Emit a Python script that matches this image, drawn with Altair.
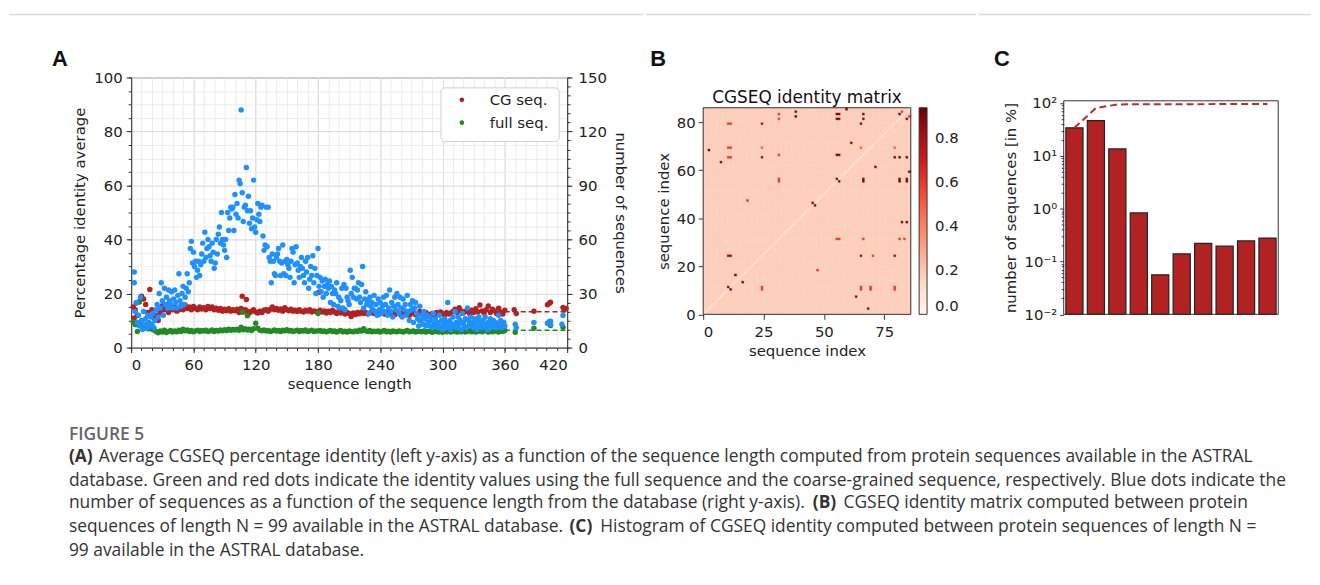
import altair as alt
import pandas as pd
import numpy as np

FONT = "DejaVu Sans"
RED = "#b22222"
GREEN = "#228b22"
BLUE = "#1e90ff"

# ---------------- Panel A data ----------------
red_len = list(range(2, 361, 2))
red_pid = [15, 14, 12, 17, 19, 18, 16, 13, 21.5, 14, 11, 12, 10, 13, 15.5, 14, 16, 13, 15, 14,
           15, 13.5, 14, 15.5, 14, 15.8, 14.5, 15, 14, 15.2, 14.5, 14, 15, 14.3, 14.8, 14, 15.2, 14.5, 15, 14,
           14.6, 13.8, 14.5, 13.5, 14.2, 13.6, 14.4, 13.5, 14, 13.6, 14.2, 13, 14.5, 13.2, 14, 13.5, 12.8, 13.5, 14, 13.2,
           12.8, 13.5, 13, 13.8, 14, 13.5, 14.2, 15, 14, 14.5, 13.8, 14.3, 13.5, 14.8, 14, 13.6, 14.2, 13.5, 13.8, 13.4,
           14, 13.5, 13.2, 13.8, 13.5, 14, 13.2, 13.6, 13.4, 13, 13.8, 13.2, 13.6, 12.8, 13.5, 13, 13.8, 13.2, 12.6, 13.4,
           12.8, 13.2, 12.4, 13, 12.6, 11.5, 12.8, 12.2, 13, 12.5, 13.2, 12.6, 13, 12.4, 12.8, 13.4, 12.6, 13, 12.2, 12.8,
           13.2, 12.4, 12.8, 13.5, 12.6, 13, 12.2, 13.2, 12.6, 12, 13, 12.4, 12.8, 12, 12.6, 13, 12.2, 12.6, 13.4, 12.8,
           12.2, 13, 12.4, 11.8, 12.6, 12, 13, 12.4, 13.2, 12.6, 12, 13, 12.4, 12.8, 13.4, 14.2, 13, 14.8, 13.6, 12.8,
           13.4, 14, 12.6, 13.8, 13, 14.4, 13.2, 15.8, 13.6, 12.8, 14, 15.4, 13, 14.2, 13.6, 12.6, 14.6, 13.2, 12.4, 13.8]
red_extra_len = [3, 5, 107, 111, 181, 369, 371, 388, 401, 403, 404, 416, 417, 419]
red_extra_pid = [11, 16.5, 19, 17.8, 20.5, 14, 12.6, 13.5, 15.9, 16.4, 16.8, 14.9, 13.9, 14.5]

green_len = list(range(2, 361, 2))
green_pid = [9.5, 8.5, 6, 9, 8, 7.5, 8, 7, 7.5, 6.8, 6.5, 6, 5.5, 6.2, 5.8, 6.4, 5.6, 6, 6.3, 5.8,
             6.2, 5.9, 6.4, 6, 6.8, 6.2, 6.5, 6, 6.3, 5.9, 6.2, 6.4, 6, 6.3, 6.1, 6.4, 6, 6.2, 6.5, 6,
             6.3, 6.1, 6.5, 6.2, 6.6, 6.3, 6.8, 6.4, 6.7, 6.5, 6.8, 6.4, 7.5, 6.6, 7, 6.5, 6.8, 6.3, 7, 9,
             7.2, 6.4, 6.2, 6.5, 6.1, 6.3, 6, 6.2, 6.5, 6.1, 6.3, 6, 6.4, 6.2, 6.6, 6.1, 6.3, 6, 6.2, 6.4,
             6, 6.3, 6.1, 6.5, 6, 6.2, 6.4, 6, 6.2, 6.1, 6.3, 6, 6.2, 5.9, 6.1, 6.3, 6, 6.2, 5.8, 6.1,
             6.3, 5.9, 6.1, 5.8, 6.2, 6, 5.9, 6.2, 6, 6.4, 6.1, 7, 6.2, 6, 6.3, 5.9, 6.1, 6, 6.2, 5.8,
             6.1, 6.3, 5.9, 6.1, 5.8, 6.2, 6, 5.9, 6.2, 6, 5.8, 6.1, 6.3, 5.9, 6, 6.2, 5.8, 6.1, 6, 5.9,
             6.2, 5.8, 6, 6.1, 5.7, 6, 6.2, 5.8, 6, 5.7, 6.1, 5.9, 6.2, 5.8, 6, 6.3, 5.8, 6.1, 5.9, 6.2,
             5.8, 6, 6.3, 5.9, 6.1, 5.8, 6, 6.4, 5.9, 6.1, 6.6, 5.8, 6.2, 5.9, 6.4, 6, 5.8, 6.2, 6, 6.3]
green_extra_len = [8, 107, 112, 180, 278, 370, 388, 403, 404, 416]
green_extra_pid = [17, 13.2, 11.8, 12.6, 10, 5.7, 7.2, 9.7, 8.2, 7.5]

blue_len = list(range(5, 361))
blue_count = [25, 14, 18, 12, 28, 15, 10, 20, 13, 16,
              11, 18, 14, 12, 17, 13, 19, 11, 15, 21,
              24, 17, 30, 22, 36, 26, 18, 33, 24, 28,
              22, 32, 26, 24, 31, 22, 27, 32, 25, 22,
              29, 41, 26, 23, 30, 34, 24, 28, 33, 41,
              31, 36, 55, 59, 47, 53, 45, 48, 39, 43,
              48, 40, 46, 52, 58, 48, 64, 50, 55, 60,
              56, 51, 48, 58, 53, 44, 47, 60, 52, 63,
              67, 58, 75, 60, 57, 54, 60, 50, 75, 65,
              72, 78, 77, 78, 65, 85, 74, 80, 72, 93,
              91, 132, 86, 70, 78, 79, 100, 76, 84, 69,
              76, 66, 72, 93, 67, 64, 71, 80, 74, 70,
              78, 79, 62, 54, 57, 78, 56, 78, 50, 48,
              36, 52, 48, 41, 40, 50, 52, 55, 48, 40,
              47, 57, 41, 48, 40, 49, 46, 44, 39, 48,
              55, 53, 36, 46, 56, 47, 43, 39, 45, 50,
              44, 40, 36, 48, 42, 50, 33, 38, 45, 40,
              51, 36, 44, 30, 40, 55, 34, 39, 31, 37,
              28, 34, 38, 30, 35, 33, 37, 25, 34, 30,
              24, 32, 30, 36, 23, 28, 22, 26, 33, 22,
              35, 21, 33, 28, 26, 24, 43, 30, 39, 28,
              33, 33, 27, 32, 36, 28, 25, 35, 45, 22,
              27, 31, 24, 26, 19, 28, 23, 25, 21, 29,
              20, 24, 18, 27, 21, 25, 19, 23, 28, 20,
              24, 29, 18, 22, 32, 20, 25, 17, 23, 28,
              21, 30, 24, 19, 28, 22, 17, 27, 21, 24,
              18, 29, 20, 15, 24, 21, 26, 14, 22, 25,
              19, 16, 12, 23, 15, 18, 13, 20, 16, 12,
              18, 14, 17, 12, 15, 11, 19, 13, 16, 12,
              14, 11, 18, 12, 15, 10, 13, 16, 11, 14,
              25, 12, 15, 10, 13, 17, 12, 20, 14, 11,
              17, 13, 15, 10, 19, 14, 12, 16, 11, 22,
              15, 13, 17, 12, 14, 11, 16, 13, 10, 15,
              17, 12, 14, 11, 15, 12, 17, 13, 10, 14,
              12, 16, 11, 13, 15, 12, 14, 11, 13, 18,
              12, 15, 11, 13, 14, 12]
blue_extra_len = [3, 3, 4, 370, 371, 388, 401, 404, 404, 415, 416]
blue_extra_count = [42, 36, 20, 13, 11, 14, 13.5, 13, 14.6, 13, 17.8]

fit_len = [360, 420]
red_fit = [13.3, 13.3]
green_fit = [6.4, 6.4]

# ---------------- Panel B data ----------------
n_seq = 86
matrix_background = 0.17
matrix_diagonal = 0.11
hot_col = [10, 11, 24, 10, 11, 10, 11, 2, 7, 24, 24, 31, 31, 38, 38, 31, 31, 31, 55, 56, 55, 56, 59, 66, 66, 65,
           81, 82, 84, 85, 61, 65, 55, 56, 55, 56, 66, 66, 71, 79, 81, 84, 79, 81, 81, 84, 84, 85, 82, 84, 81, 83,
           55, 56, 66, 45, 46, 18, 10, 11, 65, 70, 79, 47, 13, 16, 10, 11, 24, 24, 65, 65, 69, 69, 79, 79, 63, 68]
hot_row = [79, 79, 79, 69, 69, 65, 65, 68, 63, 69, 65, 83, 81, 84, 82, 66, 56, 55, 83, 83, 81, 81, 85, 83, 81, 79,
           83, 84, 81, 82, 71, 69, 66, 66, 56, 55, 56, 55, 61, 65, 65, 65, 69, 56, 55, 56, 55, 59, 38, 38, 31, 31,
           31, 31, 31, 46, 45, 47, 24, 24, 24, 24, 24, 18, 16, 13, 11, 10, 11, 10, 11, 10, 11, 10, 11, 10, 7, 2]
hot_val = [0.6, 0.6, 0.85, 0.6, 0.6, 0.6, 0.6, 0.9, 0.9, 0.5, 0.85, 0.6, 0.6, 0.9, 0.9, 0.6, 0.6, 0.6, 0.9, 0.9, 0.9, 0.9, 0.9, 0.9, 0.9, 0.9,
           0.9, 0.6, 0.9, 0.6, 0.9, 0.5, 0.9, 0.9, 0.9, 0.9, 0.9, 0.9, 0.9, 0.9, 0.9, 0.9, 0.5, 0.9, 0.9, 0.9, 0.9, 0.9, 0.9, 0.9, 0.6, 0.6,
           0.6, 0.6, 0.6, 0.9, 0.9, 0.6, 0.85, 0.85, 0.85, 0.6, 0.85, 0.6, 0.9, 0.9, 0.9, 0.9, 0.6, 0.6, 0.6, 0.6, 0.6, 0.6, 0.6, 0.6, 0.9, 0.9]
reds_stops = ["#fff5f0", "#fee0d2", "#fcbba1", "#fc9272", "#fb6a4a", "#ef3b2c", "#cb181d", "#a50f15", "#67000d"]

# ---------------- Panel C data ----------------
hist_lo = [0, 10, 20, 30, 40, 50, 60, 70, 80, 90]
hist_pct = [33.9, 46.5, 13.5, 0.83, 0.056, 0.139, 0.221, 0.195, 0.245, 0.278]

# ---------------- caption ----------------
cap_page_x = [68, 68, 98, 68, 68, 817, 848, 68, 572, 603, 68]
cap_page_y = [434, 456, 456, 480, 503, 503, 503, 527, 527, 527, 551]
cap_kind = ["fig", "bold", "norm", "norm", "norm", "bold", "norm", "norm", "bold", "norm", "norm"]
cap_text = [
    "FIGURE 5",
    "(A)",
    "Average CGSEQ percentage identity (left y-axis) as a function of the sequence length computed from protein sequences available in the ASTRAL",
    "database. Green and red dots indicate the identity values using the full sequence and the coarse-grained sequence, respectively. Blue dots indicate the",
    "number of sequences as a function of the sequence length from the database (right y-axis).",
    "(B)",
    "CGSEQ identity matrix computed between protein",
    "sequences of length N = 99 available in the ASTRAL database.",
    "(C)",
    "Histogram of CGSEQ identity computed between protein sequences of length N =",
    "99 available in the ASTRAL database.",
]

AX = dict(labelFont=FONT, labelFontSize=15, labelColor="#222", titleFont=FONT, titleFontSize=15,
          titleColor="#222", titleFontWeight="normal", tickColor="#333", domainColor="#333",
          tickWidth=1, domainWidth=1)
one = pd.DataFrame({"k": [0]})

# common origin (top of every panel's view) in page pixels
ROW_T = 75.5


def frame(x_left, x_right, y_top):
    box = alt.Chart(one).mark_rect(fill="transparent", strokeWidth=0).encode(
        x=alt.value(x_left), x2=alt.value(x_right), y=alt.value(y_top - 4), y2=alt.value(y_top))
    line = alt.Chart(one).mark_rule(color="#d9d9d9", strokeWidth=1.5).encode(
        x=alt.value(x_left), x2=alt.value(x_right), y=alt.value(y_top), y2=alt.value(y_top))
    return [box, line]


def letter(t, x, y):
    return alt.Chart(one).mark_text(text=t, font="Liberation Sans", fontSize=22, fontWeight="bold",
                                    align="left", baseline="alphabetic", color="#111").encode(
        x=alt.value(x), y=alt.value(y))


# ---------------- Panel A ----------------
A_L = 130.7
dfR = pd.DataFrame({"len": red_len + red_extra_len, "pid": red_pid + red_extra_pid})
dfG = pd.DataFrame({"len": green_len + green_extra_len, "pid": green_pid + green_extra_pid})
dfBl = pd.DataFrame({"len": blue_len + blue_extra_len, "count": blue_count + blue_extra_count})
dfFit = pd.DataFrame({"len": fit_len + fit_len, "pid": red_fit + green_fit,
                      "s": ["CG seq.", "CG seq.", "full seq.", "full seq."]})

xA = alt.Scale(domain=[0, 420], nice=False, zero=False)
yA = alt.Scale(domain=[0, 100], nice=False, zero=False)
yR = alt.Scale(domain=[0, 150], nice=False, zero=False)

minorA = alt.Chart(dfR).mark_point(opacity=0).encode(
    x=alt.X("len:Q", scale=xA, axis=alt.Axis(orient="bottom", values=list(range(0, 421, 10)), labels=False,
                                             tickSize=3, domain=False, grid=True, gridColor="#ececec",
                                             title=None, tickColor="#333")),
    y=alt.Y("pid:Q", scale=yA, axis=alt.Axis(orient="left", values=list(range(0, 101, 5)), labels=False,
                                             tickSize=3, domain=False, grid=True, gridColor="#ececec",
                                             title=None, tickColor="#333")))

red_pts = alt.Chart(dfR).mark_circle(size=30, color=RED, opacity=1).encode(
    x=alt.X("len:Q", scale=xA, axis=alt.Axis(orient="bottom", values=list(range(0, 421, 60)), tickSize=5,
                                             labelPadding=5, grid=True, gridColor="#dcdcdc",
                                             title="sequence length", titlePadding=4, **AX)),
    y=alt.Y("pid:Q", scale=yA, axis=alt.Axis(orient="left", values=list(range(0, 101, 20)), tickSize=5,
                                             labelPadding=4, grid=True, gridColor="#dcdcdc",
                                             title="Percentage identity average", titlePadding=6, **AX)))
green_pts = alt.Chart(dfG).mark_circle(size=30, color=GREEN, opacity=1).encode(
    x=alt.X("len:Q", scale=xA, axis=None), y=alt.Y("pid:Q", scale=yA, axis=None))
fits = alt.Chart(dfFit).mark_line(strokeDash=[5, 3], strokeWidth=1.5).encode(
    x=alt.X("len:Q", scale=xA, axis=None), y=alt.Y("pid:Q", scale=yA, axis=None),
    detail="s:N",
    color=alt.Color("s:N", scale=alt.Scale(domain=["CG seq.", "full seq."], range=[RED, GREEN]), legend=None))

leg_box = alt.Chart(one).mark_rect(fill="white", stroke="#d0d0d0", strokeWidth=1, cornerRadius=4).encode(
    x=alt.value(312), x2=alt.value(431), y=alt.value(10.5), y2=alt.value(64.5))
leg_df = pd.DataFrame({"s": ["CG seq.", "full seq."], "yy": [22.5, 45.5]})
leg_dots = alt.Chart(leg_df).mark_circle(size=22, opacity=1).encode(
    x=alt.value(333), y=alt.Y("yy:Q", scale=None),
    color=alt.Color("s:N", scale=alt.Scale(domain=["CG seq.", "full seq."], range=[RED, GREEN]), legend=None))
leg_text = alt.Chart(leg_df).mark_text(font=FONT, fontSize=15, align="left", baseline="middle", color="#222").encode(
    x=alt.value(361), y=alt.Y("yy:Q", scale=None), text="s:N")

bottom_pad = alt.Chart(one).mark_rect(fill="transparent", strokeWidth=0).encode(
    x=alt.value(0), x2=alt.value(5), y=alt.value(405 - ROW_T - 4), y2=alt.value(405 - ROW_T))

left_group = alt.layer(
    minorA, fits, red_pts, green_pts, leg_box, leg_dots, leg_text,
    letter("A", 51 - A_L, 64 - ROW_T), *frame(8 - A_L, 646 - A_L, 12 - ROW_T), bottom_pad
).resolve_axis(x="independent", y="independent")

blue_minor = alt.Chart(dfBl).mark_point(opacity=0).encode(
    x=alt.X("len:Q", scale=xA, axis=None),
    y=alt.Y("count:Q", scale=yR, axis=alt.Axis(orient="right", values=list(range(0, 151, 5)), labels=False,
                                               tickSize=3, domain=False, grid=False, title=None,
                                               tickColor="#333")))
blue_pts = alt.Chart(dfBl).mark_circle(size=30, color=BLUE, opacity=1).encode(
    x=alt.X("len:Q", scale=xA, axis=None),
    y=alt.Y("count:Q", scale=yR, axis=alt.Axis(orient="right", values=list(range(0, 151, 30)), tickSize=5,
                                               labelPadding=6, grid=False, title="number of sequences",
                                               titlePadding=6, **AX)))
right_group = alt.layer(blue_minor, blue_pts).resolve_axis(y="independent")

panelA = alt.layer(left_group, right_group).resolve_scale(y="independent").resolve_axis(
    x="independent", y="independent").properties(width=439, height=272)

# ---------------- Panel B ----------------
B_L = 703.3
B_H = 314 - ROW_T
B_TOP = 106 - ROW_T
hot = {(c, r): v for c, r, v in zip(hot_col, hot_row, hot_val)}
cells = []
for c in range(n_seq):
    for r in range(n_seq):
        v = matrix_diagonal if c == r else matrix_background
        v = hot.get((c, r), v)
        cells.append((c, c + 1, r, r + 1, v))
dfM = pd.DataFrame(cells, columns=["i", "i1", "j", "j1", "v"])
cscale = alt.Scale(domain=list(np.linspace(0, 0.94, len(reds_stops))), range=reds_stops, nice=False,
                   zero=False, interpolate="rgb")
sBx = alt.Scale(domain=[0, 86], nice=False, zero=False)
sBy = alt.Scale(domain=[0, 86], nice=False, zero=False, range=[B_H, B_TOP])
heat = alt.Chart(dfM).mark_rect(strokeWidth=0.6).encode(
    x=alt.X("i:Q", scale=sBx, axis=alt.Axis(orient="bottom", values=[0, 25, 50, 75], tickSize=5, labelPadding=5,
                                            grid=False, domain=False, title="sequence index", titlePadding=4, **AX)),
    x2="i1:Q",
    y=alt.Y("j:Q", scale=sBy, axis=alt.Axis(orient="left", values=[0, 20, 40, 60, 80], tickSize=5, labelPadding=3,
                                            grid=False, domain=False, title="sequence index", titlePadding=5,
                                            titleY=(B_H + B_TOP) / 2, **AX)),
    y2="j1:Q",
    color=alt.Color("v:Q", scale=cscale, title=None,
                    legend=alt.Legend(orient="none", legendX=217.4, legendY=B_TOP, direction="vertical",
                                      gradientLength=208, gradientThickness=8, values=[0, 0.2, 0.4, 0.6, 0.8],
                                      format=".1f", labelFont=FONT, labelFontSize=15, labelColor="#222",
                                      labelOffset=8, gradientStrokeColor="#333", gradientStrokeWidth=1)),
    stroke=alt.Stroke("v:Q", scale=cscale, legend=None))
borderB = alt.Chart(one).mark_rect(fill="transparent", stroke="#333", strokeWidth=1).encode(
    x=alt.datum(0), x2=alt.datum(86), y=alt.datum(0), y2=alt.datum(86))
titleB = alt.Chart(one).mark_text(text="CGSEQ identity matrix", font=FONT, fontSize=17, align="center",
                                  baseline="alphabetic", color="#111").encode(x=alt.value(104.5),
                                                                              y=alt.value(101 - ROW_T))
panelB = alt.layer(heat, borderB, titleB, letter("B", 650 - B_L, 64 - ROW_T),
                   *frame(646 - B_L, 978 - B_L, 12 - ROW_T)).properties(
    width=209, height=B_H, view=alt.ViewBackground(stroke="transparent"))

# ---------------- Panel C ----------------
C_L = 1063.3
C_H = 314 - ROW_T
C_TOP = 99 - ROW_T
dfH = pd.DataFrame({"lo": hist_lo, "pct": hist_pct})
dfH["x0"] = dfH["lo"] + 1
dfH["x1"] = dfH["lo"] + 9
dfH["mid"] = dfH["lo"] + 5
dfH["cum"] = np.cumsum(hist_pct)
xC = alt.Scale(domain=[0, 100], nice=False, zero=False)
yC = alt.Scale(type="log", domain=[0.01, 110], nice=False, range=[C_H, C_TOP])
minor_log = [m * 10.0 ** e for e in range(-2, 2) for m in range(2, 10)]
minorC = alt.Chart(dfH).mark_point(opacity=0).encode(
    x=alt.X("mid:Q", scale=xC, axis=None),
    y=alt.Y("pct:Q", scale=yC, axis=alt.Axis(orient="left", values=minor_log, labels=False, tickSize=2.5,
                                             domain=False, grid=False, title=None, tickColor="#333")))
sup = ("datum.value > 50 ? '10²' : datum.value > 5 ? '10¹' : datum.value > 0.5 ? '10⁰' : "
       "datum.value > 0.05 ? '10⁻¹' : '10⁻²'")
bars = alt.Chart(dfH).mark_rect(color=RED, stroke="#222", strokeWidth=1.2).encode(
    x=alt.X("x0:Q", scale=xC, axis=alt.Axis(orient="bottom", values=[0, 20, 40, 60, 80, 100], tickSize=5,
                                            labelPadding=5, grid=False, domain=False,
                                            title="CGSEQ identity [in %]", titlePadding=4, **AX)),
    x2="x1:Q",
    y=alt.Y("pct:Q", scale=yC, axis=alt.Axis(orient="left", values=[0.01, 0.1, 1, 10, 100], labelExpr=sup,
                                             tickSize=4, labelPadding=3, grid=False, domain=False,
                                             title="number of sequences [in %]", titlePadding=6,
                                             titleY=(C_H + C_TOP) / 2, **AX)),
    y2=alt.datum(0.01))
cum_line = alt.Chart(dfH).mark_line(color="#c62828", strokeDash=[7, 4], strokeWidth=2).encode(
    x=alt.X("mid:Q", scale=xC, axis=None), y=alt.Y("cum:Q", scale=yC, axis=None))
borderC = alt.Chart(one).mark_rect(fill="transparent", stroke="#333", strokeWidth=1).encode(
    x=alt.XDatum(0, scale=xC, axis=None), x2=alt.datum(100),
    y=alt.YDatum(0.01, scale=yC, axis=None), y2=alt.datum(110))
panelC = alt.layer(minorC, bars, cum_line, borderC, letter("C", 993 - C_L, 64 - ROW_T),
                   *frame(978 - C_L, 1312 - C_L, 12 - ROW_T)).resolve_axis(y="independent").properties(
    width=216, height=C_H, view=alt.ViewBackground(stroke="transparent"))

# ---------------- caption ----------------
CAP_T = 405
dfCap = pd.DataFrame({"x": [v - A_L for v in cap_page_x], "y": [v - CAP_T for v in cap_page_y],
                      "t": cap_text, "kind": cap_kind})
cap_layers = []
for kind, weight, color in [("fig", 600, "#666"), ("bold", "bold", "#333"), ("norm", "normal", "#333")]:
    cap_layers.append(alt.Chart(dfCap[dfCap.kind == kind]).mark_text(
        font="Open Sans", fontSize=17.5, fontWeight=weight, align="left", baseline="middle", color=color).encode(
        x=alt.X("x:Q", scale=None), y=alt.Y("y:Q", scale=None), text="t:N"))
caption = alt.layer(*cap_layers).properties(width=1100, height=163, view=alt.ViewBackground(stroke="transparent"))

top = alt.hconcat(panelA, panelB, panelC, spacing=0)
chart = alt.vconcat(top, caption, spacing=0).properties(padding=0, background="white").configure_view(
    stroke="#333", strokeWidth=1)

chart.save("out.html", embed_options={"renderer": "svg", "actions": False})
